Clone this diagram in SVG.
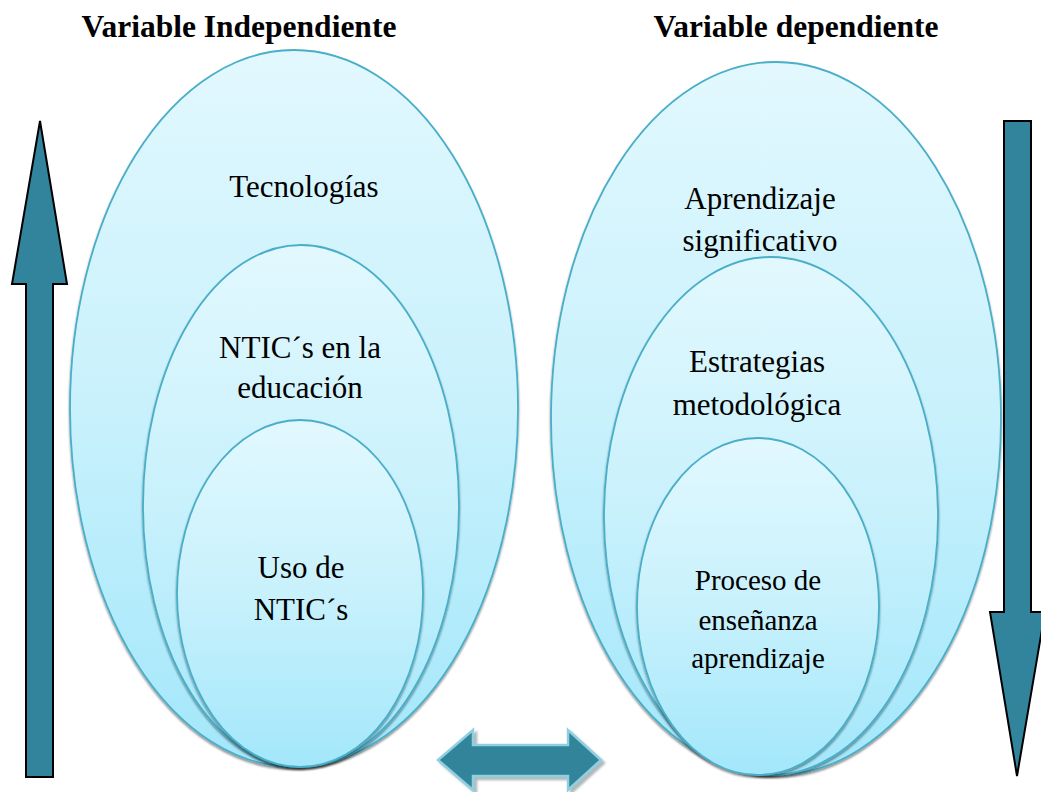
<svg xmlns="http://www.w3.org/2000/svg" width="1041" height="792" viewBox="0 0 1041 792">
<defs>
<linearGradient id="g" x1="0" y1="0" x2="0" y2="1">
<stop offset="0" stop-color="#e2f8fe"/>
<stop offset="0.5" stop-color="#c8f1fc"/>
<stop offset="1" stop-color="#a3e7fb"/>
</linearGradient>
<filter id="sh" x="-5%" y="-5%" width="110%" height="110%">
<feDropShadow dx="0" dy="2" stdDeviation="1.2" flood-color="#000" flood-opacity="0.45"/>
</filter>
<filter id="sh2" x="-10%" y="-20%" width="120%" height="140%">
<feDropShadow dx="3" dy="3" stdDeviation="1" flood-color="#7a8a90" flood-opacity="0.6"/>
</filter>
</defs>
<style>
.e{fill:url(#g);stroke:#4aaec8;stroke-width:1.8;filter:url(#sh)}
.t{font-family:"Liberation Serif","Times New Roman",serif;font-size:31px;fill:#000;text-anchor:middle}
.s{font-size:29px}
.h{font-family:"Liberation Serif","Times New Roman",serif;font-size:31.5px;font-weight:bold;text-anchor:middle}
.ar{fill:#31849b;stroke:#000;stroke-width:2}
</style>
<text class="h" x="239" y="37">Variable Independiente</text>
<text class="h" x="796" y="37">Variable dependiente</text>
<g id="left-outer"><ellipse class="e" cx="294" cy="408.5" rx="224" ry="358.5"/><text class="t" x="304" y="197">Tecnologías</text></g>
<g id="left-middle"><ellipse class="e" cx="301" cy="506" rx="158" ry="261"/><text class="t" x="300" y="358">NTIC´s en la</text><text class="t" x="300" y="398">educación</text></g>
<g id="left-inner"><ellipse class="e" cx="300" cy="593.5" rx="123" ry="173.5"/><text class="t" x="301" y="578">Uso de</text><text class="t" x="301" y="620">NTIC´s</text></g>
<g id="right-outer"><ellipse class="e" cx="776" cy="418.5" rx="225" ry="356.5"/><text class="t" x="760" y="209">Aprendizaje</text><text class="t" x="760" y="251">significativo</text></g>
<g id="right-middle"><ellipse class="e" cx="771" cy="516" rx="167" ry="259"/><text class="t" x="757" y="372">Estrategias</text><text class="t" x="757" y="415">metodológica</text></g>
<g id="right-inner"><ellipse class="e" cx="758" cy="606.5" rx="121" ry="168.5"/><text class="t s" x="758" y="590">Proceso de</text><text class="t s" x="758" y="630">enseñanza</text><text class="t s" x="758" y="668">aprendizaje</text></g>
<g id="connectors">
<polygon class="ar" points="40,121 67,284 53,284 53,777 26,777 26,284 12,284"/>
<polygon class="ar" points="1004,121 1031,121 1031,612 1045,612 1017,776 990,612 1004,612"/>
<polygon fill="#31849b" stroke="#8fd0e0" stroke-width="2.5" filter="url(#sh2)" points="438,760 473,730 473,745 568,745 568,730 601,760 568,790 568,776 473,776 473,790"/>
</g>
</svg>
